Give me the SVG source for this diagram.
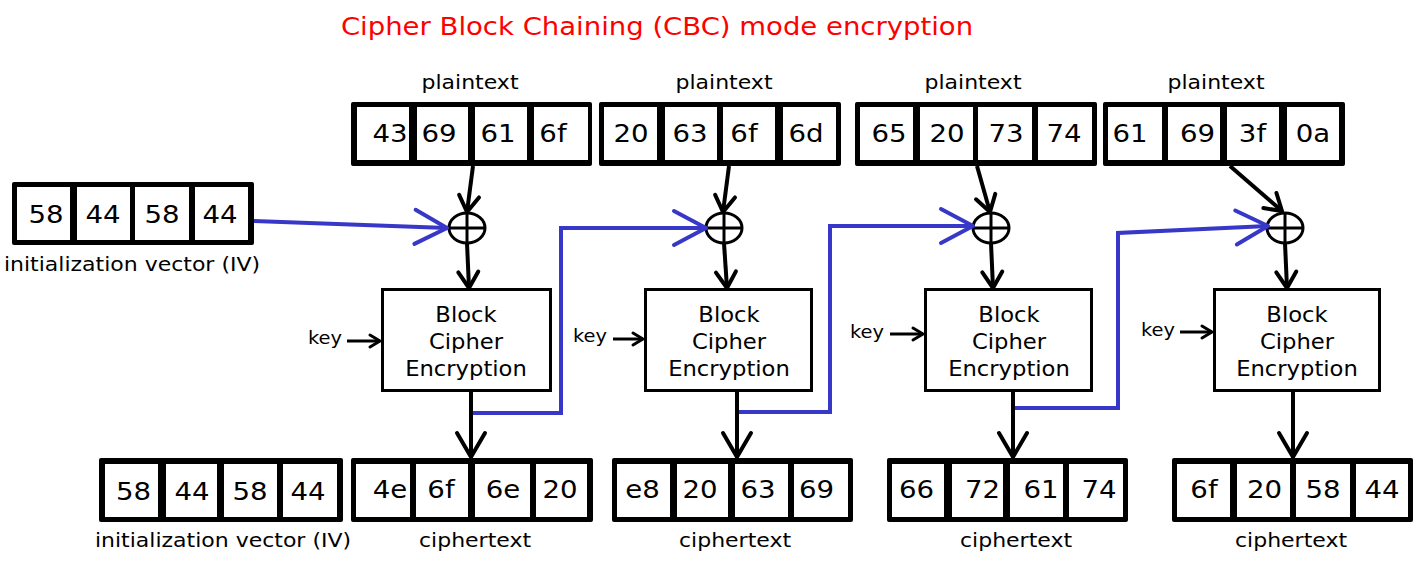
<svg xmlns="http://www.w3.org/2000/svg" width="1422" height="562" viewBox="0 0 1422 562">
  <style>
    text { font-family: "DejaVu Sans", "Liberation Sans", sans-serif; text-anchor: middle; fill: #000; }
    .title { font-size: 25px; fill: #ff0000; }
    .d { font-size: 24px; }
    .lbl { font-size: 20px; }
    .bc { font-size: 21px; }
    .key { font-size: 18px; }
    .frame { fill: #000; }
    .cell { fill: #fff; }
    .box { fill: #fff; stroke: #000; stroke-width: 3; }
    .xor { fill: #fff; stroke: #000; stroke-width: 3; }
    .xor-line { stroke: #000; stroke-width: 3; }
    .blk { fill: none; stroke: #000; stroke-width: 4; }
    .keyline { fill: none; stroke: #000; stroke-width: 3; }
    .blue { fill: none; stroke: #3737c8; stroke-width: 4; stroke-linejoin: miter; }
  </style>
  <defs>
    <marker id="head-s" markerUnits="userSpaceOnUse" orient="auto" overflow="visible" refX="0" refY="0" markerWidth="1" markerHeight="1">
      <path d="M-16,-10 L0,0 L-16,10" fill="none" stroke="#000" stroke-width="4" stroke-linecap="round" stroke-linejoin="round"/>
    </marker>
    <marker id="head-l" markerUnits="userSpaceOnUse" orient="auto" overflow="visible" refX="0" refY="0" markerWidth="1" markerHeight="1">
      <path d="M-24,-14 L0,0 L-24,14" fill="none" stroke="#000" stroke-width="4" stroke-linecap="round" stroke-linejoin="round"/>
    </marker>
    <marker id="head-k" markerUnits="userSpaceOnUse" orient="auto" overflow="visible" refX="0" refY="0" markerWidth="1" markerHeight="1">
      <path d="M-10,-6 L0,0 L-10,6" fill="none" stroke="#000" stroke-width="3" stroke-linecap="round" stroke-linejoin="round"/>
    </marker>
    <marker id="head-b" markerUnits="userSpaceOnUse" orient="auto" overflow="visible" refX="0" refY="0" markerWidth="1" markerHeight="1">
      <path d="M-32,-17 L0,0 L-32,17" fill="none" stroke="#3737c8" stroke-width="4" stroke-linecap="round" stroke-linejoin="round"/>
    </marker>
  </defs>

  <rect width="1422" height="562" fill="#fff"/>

  <text class="title" transform="translate(657 35) scale(1.1 1)">Cipher Block Chaining (CBC) mode encryption</text>

  <!-- plaintext blocks -->
  <g id="plaintext1">
    <text class="lbl" transform="translate(470 89) scale(1.1 1)">plaintext</text>
    <rect class="frame" x="351" y="102" width="241" height="64" rx="2"/>
    <rect class="cell" x="357" y="107" width="52" height="53"/>
    <rect class="cell" x="417" y="107" width="51" height="53"/>
    <rect class="cell" x="475" y="107" width="52" height="53"/>
    <rect class="cell" x="534" y="107" width="54" height="53"/>
    <text class="d" transform="translate(390 142) scale(1.15 1)">43</text>
    <text class="d" transform="translate(439 142) scale(1.15 1)">69</text>
    <text class="d" transform="translate(498 142) scale(1.15 1)">61</text>
    <text class="d" transform="translate(553 142) scale(1.15 1)">6f</text>
  </g>
  <g id="plaintext2">
    <text class="lbl" transform="translate(724 89) scale(1.1 1)">plaintext</text>
    <rect class="frame" x="599" y="102" width="242" height="64" rx="2"/>
    <rect class="cell" x="604" y="107" width="53" height="53"/>
    <rect class="cell" x="665" y="107" width="52" height="53"/>
    <rect class="cell" x="723" y="107" width="52" height="53"/>
    <rect class="cell" x="783" y="107" width="53" height="53"/>
    <text class="d" transform="translate(631 142) scale(1.15 1)">20</text>
    <text class="d" transform="translate(690 142) scale(1.15 1)">63</text>
    <text class="d" transform="translate(744 142) scale(1.15 1)">6f</text>
    <text class="d" transform="translate(806 142) scale(1.15 1)">6d</text>
  </g>
  <g id="plaintext3">
    <text class="lbl" transform="translate(973 89) scale(1.1 1)">plaintext</text>
    <rect class="frame" x="855" y="102" width="242" height="64" rx="2"/>
    <rect class="cell" x="860" y="107" width="53" height="53"/>
    <rect class="cell" x="920" y="107" width="53" height="53"/>
    <rect class="cell" x="978" y="107" width="54" height="53"/>
    <rect class="cell" x="1038" y="107" width="54" height="53"/>
    <text class="d" transform="translate(889 142) scale(1.15 1)">65</text>
    <text class="d" transform="translate(947 142) scale(1.15 1)">20</text>
    <text class="d" transform="translate(1006 142) scale(1.15 1)">73</text>
    <text class="d" transform="translate(1064 142) scale(1.15 1)">74</text>
  </g>
  <g id="plaintext4">
    <text class="lbl" transform="translate(1216 89) scale(1.1 1)">plaintext</text>
    <rect class="frame" x="1103" y="102" width="242" height="64" rx="2"/>
    <rect class="cell" x="1108" y="107" width="54" height="53"/>
    <rect class="cell" x="1168" y="107" width="52" height="53"/>
    <rect class="cell" x="1227" y="107" width="52" height="53"/>
    <rect class="cell" x="1287" y="107" width="52" height="53"/>
    <text class="d" transform="translate(1130 142) scale(1.15 1)">61</text>
    <text class="d" transform="translate(1197.5 142) scale(1.15 1)">69</text>
    <text class="d" transform="translate(1252.5 142) scale(1.15 1)">3f</text>
    <text class="d" transform="translate(1313 142) scale(1.15 1)">0a</text>
  </g>

  <!-- initialization vector, top -->
  <g id="iv-top">
    <rect class="frame" x="12" y="182" width="242" height="63" rx="2"/>
    <rect class="cell" x="17" y="187" width="53" height="53"/>
    <rect class="cell" x="77" y="187" width="53" height="53"/>
    <rect class="cell" x="135" y="187" width="54" height="53"/>
    <rect class="cell" x="195" y="187" width="53" height="53"/>
    <text class="d" transform="translate(46 223) scale(1.15 1)">58</text>
    <text class="d" transform="translate(103 223) scale(1.15 1)">44</text>
    <text class="d" transform="translate(162 223) scale(1.15 1)">58</text>
    <text class="d" transform="translate(220 223) scale(1.15 1)">44</text>
    <text class="lbl" transform="translate(132 271) scale(1.1 1)">initialization vector (IV)</text>
  </g>

  <!-- XOR operators -->
  <g id="xor1">
    <ellipse class="xor" cx="467" cy="228" rx="18" ry="15"/>
    <line class="xor-line" x1="467" y1="213" x2="467" y2="243"/>
    <line class="xor-line" x1="449" y1="228" x2="485" y2="228"/>
  </g>
  <g id="xor2">
    <ellipse class="xor" cx="724" cy="228" rx="18" ry="15"/>
    <line class="xor-line" x1="724" y1="213" x2="724" y2="243"/>
    <line class="xor-line" x1="706" y1="228" x2="742" y2="228"/>
  </g>
  <g id="xor3">
    <ellipse class="xor" cx="991" cy="228" rx="18" ry="15"/>
    <line class="xor-line" x1="991" y1="213" x2="991" y2="243"/>
    <line class="xor-line" x1="973" y1="228" x2="1009" y2="228"/>
  </g>
  <g id="xor4">
    <ellipse class="xor" cx="1285" cy="228" rx="18" ry="15"/>
    <line class="xor-line" x1="1285" y1="213" x2="1285" y2="243"/>
    <line class="xor-line" x1="1267" y1="228" x2="1303" y2="228"/>
  </g>

  <!-- block cipher stages -->
  <g id="cipher1">
    <rect class="box" x="382.5" y="289.5" width="168" height="101"/>
    <text class="bc" transform="translate(466 322) scale(1.08 1)">Block</text>
    <text class="bc" transform="translate(466 349) scale(1.08 1)">Cipher</text>
    <text class="bc" transform="translate(466 376) scale(1.08 1)">Encryption</text>
    <text class="key" transform="translate(325 344) scale(1.08 1)">key</text>
  </g>
  <g id="cipher2">
    <rect class="box" x="645.5" y="289.5" width="166" height="101"/>
    <text class="bc" transform="translate(729 322) scale(1.08 1)">Block</text>
    <text class="bc" transform="translate(729 349) scale(1.08 1)">Cipher</text>
    <text class="bc" transform="translate(729 376) scale(1.08 1)">Encryption</text>
    <text class="key" transform="translate(590 342) scale(1.08 1)">key</text>
  </g>
  <g id="cipher3">
    <rect class="box" x="925.5" y="289.5" width="166" height="101"/>
    <text class="bc" transform="translate(1009 322) scale(1.08 1)">Block</text>
    <text class="bc" transform="translate(1009 349) scale(1.08 1)">Cipher</text>
    <text class="bc" transform="translate(1009 376) scale(1.08 1)">Encryption</text>
    <text class="key" transform="translate(867 338) scale(1.08 1)">key</text>
  </g>
  <g id="cipher4">
    <rect class="box" x="1214.5" y="289.5" width="165" height="101"/>
    <text class="bc" transform="translate(1297 322) scale(1.08 1)">Block</text>
    <text class="bc" transform="translate(1297 349) scale(1.08 1)">Cipher</text>
    <text class="bc" transform="translate(1297 376) scale(1.08 1)">Encryption</text>
    <text class="key" transform="translate(1158 336) scale(1.08 1)">key</text>
  </g>

  <!-- initialization vector, bottom -->
  <g id="iv-bottom">
    <rect class="frame" x="99" y="458" width="244" height="64" rx="2"/>
    <rect class="cell" x="105" y="464" width="53" height="53"/>
    <rect class="cell" x="166" y="464" width="51" height="53"/>
    <rect class="cell" x="224" y="464" width="53" height="53"/>
    <rect class="cell" x="283" y="464" width="54" height="53"/>
    <text class="d" transform="translate(133.5 500) scale(1.15 1)">58</text>
    <text class="d" transform="translate(192 500) scale(1.15 1)">44</text>
    <text class="d" transform="translate(250 500) scale(1.15 1)">58</text>
    <text class="d" transform="translate(308 500) scale(1.15 1)">44</text>
    <text class="lbl" transform="translate(223 547) scale(1.1 1)">initialization vector (IV)</text>
  </g>

  <!-- ciphertext blocks -->
  <g id="ciphertext1">
    <rect class="frame" x="351" y="458" width="242" height="64" rx="2"/>
    <rect class="cell" x="356" y="464" width="54" height="53"/>
    <rect class="cell" x="416" y="464" width="52" height="53"/>
    <rect class="cell" x="475" y="464" width="55" height="53"/>
    <rect class="cell" x="536" y="464" width="51" height="53"/>
    <text class="d" transform="translate(390 498) scale(1.15 1)">4e</text>
    <text class="d" transform="translate(441 498) scale(1.15 1)">6f</text>
    <text class="d" transform="translate(503 498) scale(1.15 1)">6e</text>
    <text class="d" transform="translate(560 498) scale(1.15 1)">20</text>
    <text class="lbl" transform="translate(475 547) scale(1.1 1)">ciphertext</text>
  </g>
  <g id="ciphertext2">
    <rect class="frame" x="612" y="458" width="241" height="64" rx="2"/>
    <rect class="cell" x="617" y="464" width="53" height="53"/>
    <rect class="cell" x="677" y="464" width="51" height="53"/>
    <rect class="cell" x="735" y="464" width="53" height="53"/>
    <rect class="cell" x="794" y="464" width="54" height="53"/>
    <text class="d" transform="translate(642.5 498) scale(1.15 1)">e8</text>
    <text class="d" transform="translate(700 498) scale(1.15 1)">20</text>
    <text class="d" transform="translate(758 498) scale(1.15 1)">63</text>
    <text class="d" transform="translate(816.5 498) scale(1.15 1)">69</text>
    <text class="lbl" transform="translate(735 547) scale(1.1 1)">ciphertext</text>
  </g>
  <g id="ciphertext3">
    <rect class="frame" x="887" y="458" width="241" height="64" rx="2"/>
    <rect class="cell" x="892" y="464" width="52" height="53"/>
    <rect class="cell" x="952" y="464" width="51" height="53"/>
    <rect class="cell" x="1010" y="464" width="53" height="53"/>
    <rect class="cell" x="1069" y="464" width="54" height="53"/>
    <text class="d" transform="translate(916.5 498) scale(1.15 1)">66</text>
    <text class="d" transform="translate(982.5 498) scale(1.15 1)">72</text>
    <text class="d" transform="translate(1041 498) scale(1.15 1)">61</text>
    <text class="d" transform="translate(1099 498) scale(1.15 1)">74</text>
    <text class="lbl" transform="translate(1016 547) scale(1.1 1)">ciphertext</text>
  </g>
  <g id="ciphertext4">
    <rect class="frame" x="1172" y="458" width="241" height="64" rx="2"/>
    <rect class="cell" x="1177" y="464" width="53" height="53"/>
    <rect class="cell" x="1237" y="464" width="53" height="53"/>
    <rect class="cell" x="1296" y="464" width="54" height="53"/>
    <rect class="cell" x="1356" y="464" width="52" height="53"/>
    <text class="d" transform="translate(1204 498) scale(1.15 1)">6f</text>
    <text class="d" transform="translate(1264.5 498) scale(1.15 1)">20</text>
    <text class="d" transform="translate(1323 498) scale(1.15 1)">58</text>
    <text class="d" transform="translate(1382 498) scale(1.15 1)">44</text>
    <text class="lbl" transform="translate(1291 547) scale(1.1 1)">ciphertext</text>
  </g>

  <!-- connectors -->
  <g id="connectors">
    <!-- chaining feedback (IV and previous ciphertext into XOR) -->
    <path class="blue" d="M254,221 L447,228" marker-end="url(#head-b)"/>
    <path class="blue" d="M471,413 L561,413 L561,228 L706,228" marker-end="url(#head-b)"/>
    <path class="blue" d="M737,412 L830,412 L830,226 L973,226" marker-end="url(#head-b)"/>
    <path class="blue" d="M1013,408 L1118,408 L1118,233 L1268,226" marker-end="url(#head-b)"/>

    <!-- plaintext into XOR -->
    <path class="blk" d="M473,166 L467,212" marker-end="url(#head-s)"/>
    <path class="blk" d="M729,166 L723,212" marker-end="url(#head-s)"/>
    <path class="blk" d="M977,166 L990,212" marker-end="url(#head-s)"/>
    <path class="blk" d="M1230,166 L1282,211" marker-end="url(#head-s)"/>

    <!-- XOR into block cipher -->
    <path class="blk" d="M467,243 L469,288" marker-end="url(#head-s)"/>
    <path class="blk" d="M724,243 L727,288" marker-end="url(#head-s)"/>
    <path class="blk" d="M991,243 L993,288" marker-end="url(#head-s)"/>
    <path class="blk" d="M1285,243 L1287,288" marker-end="url(#head-s)"/>

    <!-- block cipher output to ciphertext -->
    <path class="blk" d="M471,391 L471,457" marker-end="url(#head-l)"/>
    <path class="blk" d="M737,391 L737,457" marker-end="url(#head-l)"/>
    <path class="blk" d="M1013,391 L1013,457" marker-end="url(#head-l)"/>
    <path class="blk" d="M1293,391 L1293,457" marker-end="url(#head-l)"/>

    <!-- key inputs -->
    <path class="keyline" d="M347,341 L380,341" marker-end="url(#head-k)"/>
    <path class="keyline" d="M613,339 L643,339" marker-end="url(#head-k)"/>
    <path class="keyline" d="M890,334 L923,334" marker-end="url(#head-k)"/>
    <path class="keyline" d="M1180,332 L1212,332" marker-end="url(#head-k)"/>
  </g>
</svg>
